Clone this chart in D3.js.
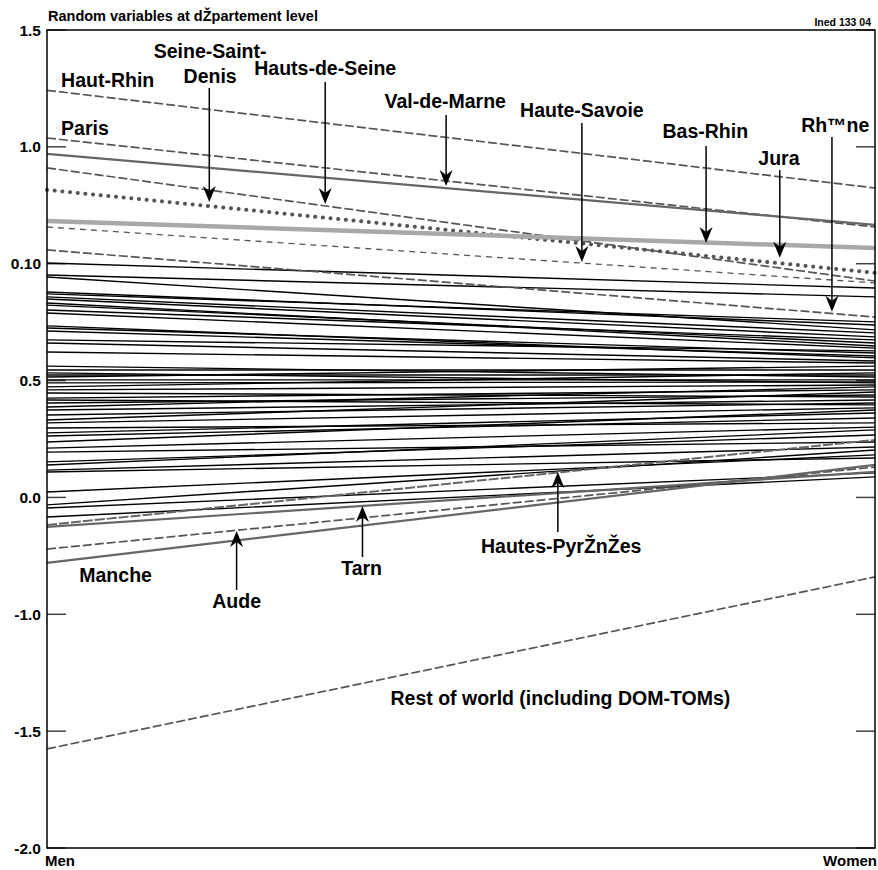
<!DOCTYPE html>
<html>
<head>
<meta charset="utf-8">
<script src="https://cdn.jsdelivr.net/npm/d3@7/dist/d3.min.js"></script>
<style>
  body { margin: 0; background: #fff; }
  text { font-family: Arial, "Liberation Sans", sans-serif; }
</style>
</head>
<body>
<div id="container"></div>
<script>
const sexes = ['Men', 'Women']
const tickValues = [1.5, 1.0, 0.5, 0.0, -0.5, -1.0, -1.5, -2.0]
const tickLabels = ['1.5', '1.0', '0.10', '0.5', '0.0', '-1.0', '-1.5', '-2.0']

// unlabelled departements, one entry per line
const menValues = [0.503, 0.452, 0.443, 0.379, 0.371, 0.358, 0.349, 0.332, 0.323, 0.302,
  0.289, 0.234, 0.225, 0.212, 0.174, 0.161, 0.122, 0.062, 0.045, 0.033,
  0.024, 0.015, 0.003, -0.010, -0.027, -0.040, -0.053, -0.075, -0.083, -0.096,
  -0.113, -0.126, -0.147, -0.169, -0.181, -0.203, -0.224, -0.237, -0.263, -0.289,
  -0.306, -0.348, -0.361, -0.383, -0.391, -0.477, -0.532, -0.545, -0.584]
const womenValues = [0.396, 0.358, 0.217, 0.238, 0.251, 0.204, 0.187, 0.148, 0.161, 0.174,
  0.139, 0.097, 0.118, 0.105, 0.127, 0.084, 0.075, 0.015, 0.045, -0.010,
  0.024, 0.062, 0.003, -0.006, 0.033, -0.019, -0.070, -0.040, -0.104, -0.062,
  -0.027, -0.083, -0.096, -0.049, -0.117, -0.181, -0.139, -0.160, -0.126, -0.199,
  -0.263, -0.233, -0.211, -0.284, -0.331, -0.318, -0.297, -0.395, -0.412]

// highlighted departements
const namedDeps = ['Haut-Rhin', 'Paris', 'Val-de-Marne', 'Hauts-de-Seine', 'Seine-Saint-Denis',
  'Bas-Rhin', 'Haute-Savoie', 'Rh™ne', 'Hautes-PyrŽnŽes', 'Tarn', 'Aude', 'Manche', 'Rest of world']
const namedMen = [1.242, 1.038, 0.970, 0.910, 0.816, 0.683, 0.657, 0.559, -0.618, -0.626, -0.721, -0.780, -1.576]
const namedWomen = [0.824, 0.657, 0.666, 0.426, 0.461, 0.567, 0.418, 0.272, -0.254, -0.391, -0.370, -0.361, -0.840]

const lineStyles = {
  dashed: { stroke: '#555', width: 1.7, dash: '9,3' },
  solidGray: { stroke: '#666', width: 2.2, dash: null },
  dotted: { stroke: '#555', width: 4, dash: '0.1,7.6', cap: 'round' },
  thickLight: { stroke: '#a8a8a8', width: 4.5, dash: null },
  thinDashed: { stroke: '#555', width: 1.3, dash: '6,5' },
  whiteDashed: { stroke: '#666', width: 2, dash: '10,2' }
}
const depStyle = {
  'Haut-Rhin': 'dashed', 'Paris': 'dashed', 'Val-de-Marne': 'solidGray', 'Hauts-de-Seine': 'dashed',
  'Seine-Saint-Denis': 'dotted', 'Bas-Rhin': 'thickLight', 'Haute-Savoie': 'thinDashed', 'Rh™ne': 'dashed',
  'Hautes-PyrŽnŽes': 'whiteDashed', 'Tarn': 'solidGray', 'Aude': 'dashed', 'Manche': 'solidGray',
  'Rest of world': 'dashed'
}

// label texts; pos = [fraction along x, value], arrow = [fraction along x, from value, to value]
const labels = [
  { text: ['Haut-Rhin'], anchor: 'start', pos: [0.017, 1.256] },
  { text: ['Paris'], anchor: 'start', pos: [0.017, 1.051] },
  { text: ['Seine-Saint-', 'Denis'], anchor: 'middle', pos: [0.197, 1.380], arrow: [0.196, 1.252, 0.764] },
  { text: ['Hauts-de-Seine'], anchor: 'middle', pos: [0.336, 1.308], arrow: [0.336, 1.278, 0.756] },
  { text: ['Val-de-Marne'], anchor: 'middle', pos: [0.481, 1.166], arrow: [0.482, 1.136, 0.832] },
  { text: ['Haute-Savoie'], anchor: 'middle', pos: [0.646, 1.128], arrow: [0.646, 1.102, 0.507] },
  { text: ['Bas-Rhin'], anchor: 'middle', pos: [0.795, 1.038], arrow: [0.796, 1.004, 0.589] },
  { text: ['Jura'], anchor: 'middle', pos: [0.884, 0.922], arrow: [0.885, 0.901, 0.525] },
  { text: ['Rh™ne'], anchor: 'middle', pos: [0.952, 1.064], arrow: [0.948, 1.042, 0.294] },
  { text: ['Manche'], anchor: 'start', pos: [0.039, -0.862] },
  { text: ['Aude'], anchor: 'middle', pos: [0.229, -0.973], arrow: [0.229, -0.896, -0.644] },
  { text: ['Tarn'], anchor: 'middle', pos: [0.380, -0.832], arrow: [0.381, -0.755, -0.537] },
  { text: ['Hautes-PyrŽnŽes'], anchor: 'middle', pos: [0.621, -0.738], arrow: [0.617, -0.648, -0.391] },
  { text: ['Rest of world (including DOM-TOMs)'], anchor: 'middle', pos: [0.620, -1.388] }
]

const width = 878
const height = 870
const margin = { left: 47, right: 3, top: 30, bottom: 22 }
const plotRight = width - margin.right
const plotBottom = height - margin.bottom

const x = d3.scalePoint().domain(sexes).range([margin.left, plotRight])
const xFrac = d3.scaleLinear().domain([0, 1]).range([margin.left, plotRight])
const y = d3.scaleLinear().domain([-2, 1.5]).range([plotBottom, margin.top])

const svg = d3.select('#container')
  .append('svg')
  .attr('width', width)
  .attr('height', height)

svg.append('text')
  .attr('x', margin.left + 1)
  .attr('y', 21)
  .style('font-size', '14.5px')
  .style('font-weight', 'bold')
  .text('Random variables at dŽpartement level')

svg.append('text')
  .attr('x', plotRight - 4)
  .attr('y', 26)
  .attr('text-anchor', 'end')
  .style('font-size', '10.5px')
  .style('font-weight', 'bold')
  .text('Ined 133 04')

// y ticks on both sides, pointing inward
const ticks = svg.append('g')
tickValues.forEach((v, i) => {
  ticks.append('line')
    .attr('x1', margin.left).attr('x2', margin.left + 19)
    .attr('y1', y(v)).attr('y2', y(v))
    .style('stroke', '#444').style('stroke-width', 1.5)
  ticks.append('line')
    .attr('x1', plotRight - 19).attr('x2', plotRight)
    .attr('y1', y(v)).attr('y2', y(v))
    .style('stroke', '#444').style('stroke-width', 1.5)
  ticks.append('text')
    .attr('x', margin.left - 6)
    .attr('y', y(v) + 5.5)
    .attr('text-anchor', 'end')
    .style('font-size', '15.5px')
    .style('font-weight', 'bold')
    .text(tickLabels[i])
})

const line = d3.line().x(d => x(d.sex)).y(d => y(d.value))

svg.append('g').attr('id', 'plain')
  .selectAll('path')
  .data(menValues.map((m, i) => [{ sex: 'Men', value: m }, { sex: 'Women', value: womenValues[i] }]))
  .enter().append('path')
  .attr('d', line)
  .style('fill', 'none')
  .style('stroke', '#000')
  .style('stroke-width', 1.4)

svg.append('g').attr('id', 'named')
  .selectAll('path')
  .data(namedDeps.map((n, i) => ({ name: n, pts: [{ sex: 'Men', value: namedMen[i] }, { sex: 'Women', value: namedWomen[i] }] })))
  .enter().append('path')
  .attr('d', d => line(d.pts))
  .style('fill', 'none')
  .style('stroke', d => lineStyles[depStyle[d.name]].stroke)
  .style('stroke-width', d => lineStyles[depStyle[d.name]].width)
  .style('stroke-dasharray', d => lineStyles[depStyle[d.name]].dash)
  .style('stroke-linecap', d => lineStyles[depStyle[d.name]].cap || 'butt')

// frame
svg.append('rect')
  .attr('x', margin.left)
  .attr('y', margin.top)
  .attr('width', plotRight - margin.left)
  .attr('height', plotBottom - margin.top)
  .style('fill', 'none')
  .style('stroke', '#000')
  .style('stroke-width', 1.5)

svg.append('text')
  .attr('x', x('Men') - 2)
  .attr('y', height - 4)
  .style('font-size', '15px')
  .style('font-weight', 'bold')
  .text('Men')

svg.append('text')
  .attr('x', x('Women') + 2)
  .attr('y', height - 4)
  .attr('text-anchor', 'end')
  .style('font-size', '15px')
  .style('font-weight', 'bold')
  .text('Women')

// labels and arrows
const notes = svg.append('g').attr('id', 'notes')
labels.forEach(l => {
  const t = notes.append('text')
    .attr('x', xFrac(l.pos[0]))
    .attr('y', y(l.pos[1]))
    .attr('text-anchor', l.anchor)
    .style('font-size', '19.5px')
    .style('font-weight', 'bold')
  l.text.forEach((s, i) => {
    t.append('tspan')
      .attr('x', xFrac(l.pos[0]))
      .attr('dy', i === 0 ? 0 : 25)
      .text(s)
  })
  if (l.arrow) {
    const ax = xFrac(l.arrow[0])
    const y0 = y(l.arrow[1])
    const y1 = y(l.arrow[2])
    const dir = y1 > y0 ? 1 : -1
    notes.append('line')
      .attr('x1', ax).attr('x2', ax)
      .attr('y1', y0).attr('y2', y1 - dir * 10)
      .style('stroke', '#000').style('stroke-width', 1.5)
    notes.append('path')
      .attr('d', `M0,0 L-6.5,${-dir * 16} L0,${-dir * 11} L6.5,${-dir * 16} Z`)
      .attr('transform', `translate(${ax},${y1})`)
      .style('fill', '#000')
  }
})
</script>
</body>
</html>
